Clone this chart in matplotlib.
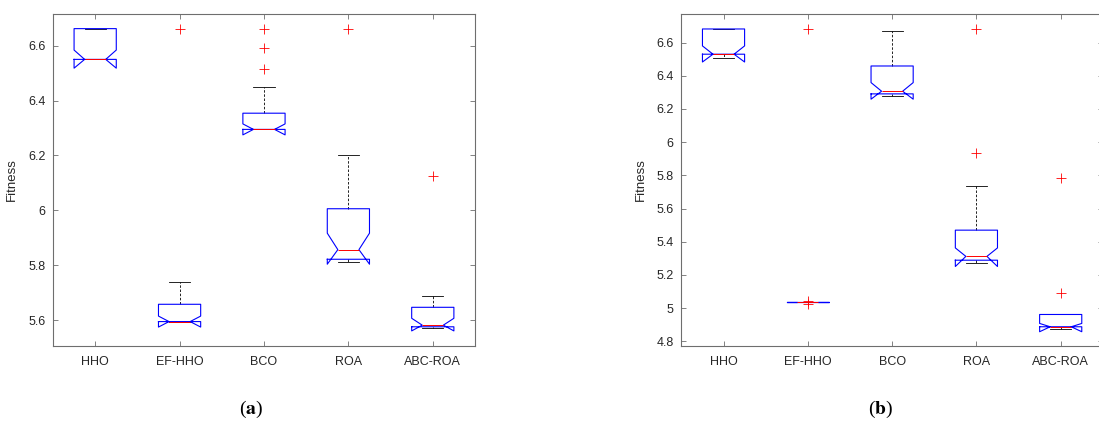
import matplotlib.pyplot as plt

plt.rcParams['font.family'] = ['Liberation Sans', 'DejaVu Sans']
plt.rcParams['mathtext.fontset'] = 'stix'

methods = ["HHO", "EF-HHO", "BCO", "ROA", "ABC-ROA"]

# (a) box statistics per method
a_q1 = [6.550, 5.595, 6.295, 5.822, 5.576]
a_med = [6.550, 5.595, 6.295, 5.857, 5.582]
a_q3 = [6.662, 5.658, 6.354, 6.006, 5.647]
a_lo = [6.550, 5.595, 6.295, 5.812, 5.570]
a_hi = [6.662, 5.739, 6.450, 6.202, 5.687]
a_cilo = [6.518, 5.575, 6.275, 5.804, 5.561]
a_cihi = [6.584, 5.615, 6.315, 5.917, 5.607]
a_fliers = [[], [6.662], [6.662, 6.593, 6.514], [6.662], [6.125]]

# (b) box statistics per method
b_q1 = [6.530, 5.035, 6.291, 5.289, 4.888]
b_med = [6.530, 5.035, 6.307, 5.312, 4.888]
b_q3 = [6.682, 5.035, 6.459, 5.470, 4.962]
b_lo = [6.507, 5.035, 6.281, 5.271, 4.872]
b_hi = [6.682, 5.035, 6.672, 5.739, 4.966]
b_cilo = [6.483, 5.035, 6.259, 5.251, 4.858]
b_cihi = [6.580, 5.035, 6.359, 5.363, 4.908]
b_fliers = [[], [6.682, 5.045, 5.025], [], [6.682, 5.932], [5.785, 5.093]]

a_yticks = [5.6, 5.8, 6.0, 6.2, 6.4, 6.6]
b_yticks = [4.8, 5.0, 5.2, 5.4, 5.6, 5.8, 6.0, 6.2, 6.4, 6.6]


def make_stats(q1, med, q3, lo, hi, cilo, cihi, fliers):
    stats = []
    for i in range(len(methods)):
        stats.append(dict(label=methods[i], q1=q1[i], med=med[i], q3=q3[i],
                          whislo=lo[i], whishi=hi[i], cilo=cilo[i],
                          cihi=cihi[i], fliers=fliers[i]))
    return stats


def draw_panel(ax, stats, yticks, ylim):
    # whiskers and caps sit underneath the notched boxes
    ax.bxp(stats, positions=range(1, 6), widths=0.5, shownotches=True,
           boxprops=dict(color='blue', lw=0.8, zorder=3),
           medianprops=dict(color='red', lw=0.7, zorder=4),
           whiskerprops=dict(color='black', lw=0.6, linestyle=(0, (3, 2)),
                             zorder=2),
           capprops=dict(color='black', lw=0.6, zorder=2),
           flierprops=dict(marker='+', color='red', markeredgecolor='red',
                           markersize=6.5, markeredgewidth=0.6, zorder=5))
    ax.set_xlim(0.5, 5.5)
    ax.set_ylim(*ylim)
    ax.set_yticks(yticks)
    ax.set_yticklabels([f"{t:g}" for t in yticks])
    ax.set_xticks(range(1, 6))
    ax.set_xticklabels(methods)
    ax.tick_params(direction='in', top=True, right=True, length=3.5,
                   width=0.6, color='#6e6e6e', labelcolor='#262626',
                   labelsize=9)
    ax.tick_params(axis='x', pad=7)
    ax.tick_params(axis='y', pad=5.5)
    for s in ax.spines.values():
        s.set_color('#6e6e6e')
        s.set_linewidth(0.8)
    ax.set_ylabel("Fitness", fontsize=9.5, color='#262626')
    ax.yaxis.set_label_coords(-0.083, 0.5)


fig = plt.figure(figsize=(10.99, 4.23), dpi=100)
ax1 = fig.add_axes([0.0482, 0.182, 0.384, 0.786])
ax2 = fig.add_axes([0.620, 0.182, 0.3835, 0.786])

draw_panel(ax1, make_stats(a_q1, a_med, a_q3, a_lo, a_hi, a_cilo, a_cihi, a_fliers),
           a_yticks, (5.506, 6.717))
draw_panel(ax2, make_stats(b_q1, b_med, b_q3, b_lo, b_hi, b_cilo, b_cihi, b_fliers),
           b_yticks, (4.772, 6.775))

fig.text(0.2284, 0.031, r"($\mathbf{a}$)", family='Liberation Serif',
         fontsize=14, ha='center', va='center')
fig.text(0.8016, 0.031, r"($\mathbf{b}$)", family='Liberation Serif',
         fontsize=14, ha='center', va='center')

fig.savefig("out.png", dpi=100)
